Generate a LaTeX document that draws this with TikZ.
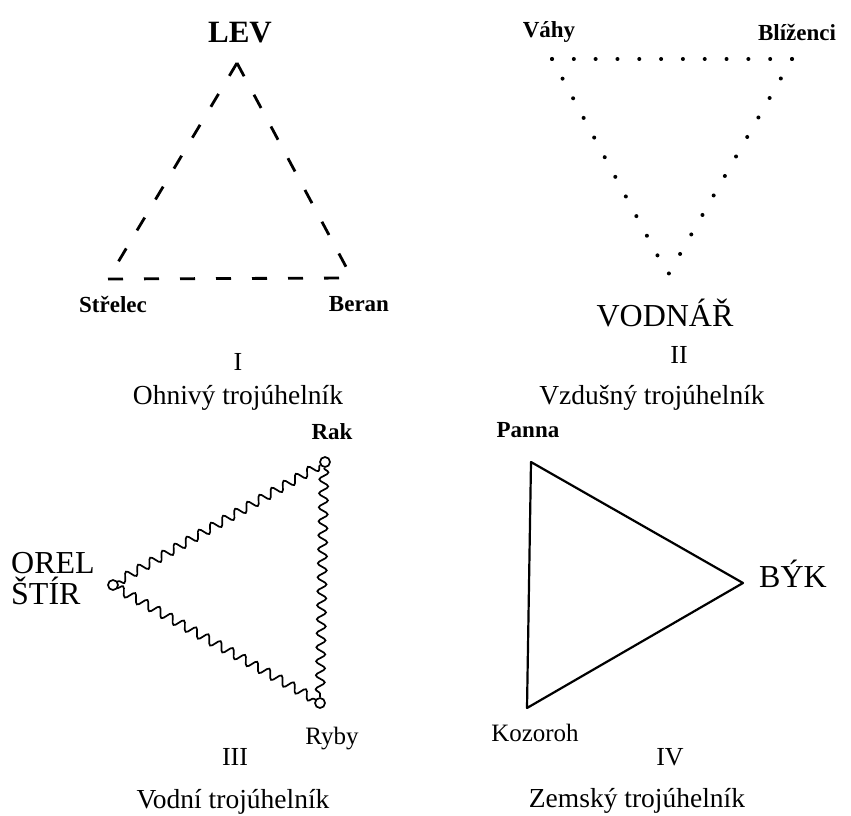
\documentclass[tikz,border=0pt]{standalone}
\usepackage{fontspec}
\setmainfont{Liberation Serif}
\usetikzlibrary{decorations.pathmorphing}
\begin{document}
\begin{tikzpicture}[x=1pt,y=-1pt,
  big/.style={font=\fontsize{32}{34}\selectfont},
  bigb/.style={font=\bfseries\fontsize{31}{33}\selectfont},
  lab/.style={font=\bfseries\fontsize{23}{25}\selectfont},
  labr/.style={font=\fontsize{25}{27}\selectfont},
  num/.style={font=\fontsize{26}{28}\selectfont},
  capt/.style={font=\fontsize{27.5}{29}\selectfont},
  fire/.style={line width=2.8pt, dash pattern=on 15pt off 21pt},
  air/.style={line width=4pt, line cap=round, dash pattern=on 0pt off #1},
  water/.style={line width=1.7pt, decorate, decoration={snake, segment length=14pt, amplitude=4.5pt}},
  earth/.style={line width=2.2pt, line join=round},
  loopc/.style={line width=1.7pt}]
\useasboundingbox (0,0) rectangle (851,816);

% ---------- I: fire ----------
\coordinate (lev) at (237,63);
\coordinate (str) at (108,279);
\coordinate (ber) at (352,278);
\node[bigb] (tLev) at (240,33) {LEV};
\node[lab] (tStr) at (113,305) {Střelec};
\node[lab] (tBer) at (359,304) {Beran};
\node[num] (tI) at (238,362) {I};
\node[capt] (tIc) at (238,398) {Ohnivý trojúhelník};
\draw[fire] (lev) -- (ber);
\draw[fire] (lev) -- (str);
\draw[fire] (str) -- (ber);

% ---------- II: air ----------
\coordinate (vah) at (552,59);
\coordinate (bli) at (792,59);
\coordinate (vod) at (668,275);
\node[lab] (tVah) at (549,32) {Váhy};
\node[lab] (tBli) at (797,32) {Blíženci};
\node[big] (tVod) at (665,313) {VODNÁŘ};
\node[num] (tII) at (679,355) {II};
\node[capt] (tIIc) at (652,398) {Vzdušný trojúhelník};
\draw[air=21.818pt] (vah) -- (bli);
\draw[air=22.48pt] (bli) -- (vod);
\draw[air=22.29pt] (vah) -- (vod);

% ---------- III: water ----------
\coordinate (rak) at (325,462);
\coordinate (ore) at (113,585);
\coordinate (ryb) at (320,703);
\node[lab] (tRak) at (332,432) {Rak};
\node[big, align=left, inner sep=0pt, anchor=west] (tOre) at (11,579) {OREL\\[-3pt]ŠTÍR};
\node[labr] (tRyb) at (332,739) {Ryby};
\node[num] (tIII) at (235,757) {III};
\node[capt] (tIIIc) at (233,802) {Vodní trojúhelník};
\draw[loopc] (rak) circle (5pt);
\draw[loopc] (ore) circle (5pt);
\draw[loopc] (ryb) circle (5pt);
\draw[water] ([shift={(-5,3)}]rak) -- ([shift={(4,-3)}]ore);
\draw[water] ([shift={(4,3)}]ore) -- ([shift={(-4,-3)}]ryb);
\draw[water] ([shift={(-1,6)}]rak) -- ([shift={(0,-6)}]ryb);

% ---------- IV: earth ----------
\coordinate (pan) at (531,462);
\coordinate (byk) at (743,583);
\coordinate (koz) at (527,708);
\node[lab] (tPan) at (528,430) {Panna};
\node[big] (tByk) at (793,574) {BÝK};
\node[labr] (tKoz) at (535,733) {Kozoroh};
\node[num] (tIV) at (670,757) {IV};
\node[capt] (tIVc) at (637,801) {Zemský trojúhelník};
\draw[earth] (pan) -- (byk) -- (koz) -- cycle;
\end{tikzpicture}
\end{document}
